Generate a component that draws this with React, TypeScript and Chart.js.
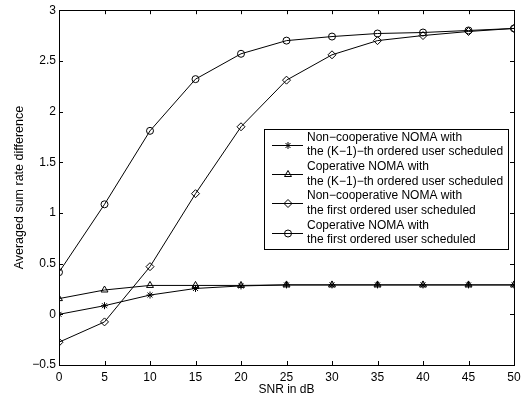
import React, { useEffect, useRef } from 'react';
import { Chart, registerables } from 'chart.js';

Chart.register(...registerables);

const snr = [0, 5, 10, 15, 20, 25, 30, 35, 40, 45, 50];
const nonCoopK1 = [0.0, 0.085, 0.19, 0.255, 0.28, 0.29, 0.29, 0.29, 0.29, 0.29, 0.29];
const coopK1 = [0.155, 0.24, 0.285, 0.285, 0.285, 0.29, 0.29, 0.29, 0.29, 0.29, 0.29];
const nonCoopFirst = [-0.275, -0.075, 0.47, 1.19, 1.85, 2.31, 2.56, 2.7, 2.75, 2.79, 2.82];
const coopFirst = [0.415, 1.085, 1.81, 2.32, 2.57, 2.7, 2.74, 2.77, 2.78, 2.8, 2.82];

const xTicks = [0, 5, 10, 15, 20, 25, 30, 35, 40, 45, 50];
const yTicks = [-0.5, 0, 0.5, 1, 1.5, 2, 2.5, 3];

const seriesLabels = [
  ['Non\u2212cooperative NOMA with', 'the (K\u22121)\u2212th ordered user scheduled'],
  ['Coperative NOMA with', 'the (K\u22121)\u2212th ordered user scheduled'],
  ['Non\u2212cooperative NOMA with', 'the first ordered user scheduled'],
  ['Coperative NOMA with', 'the first ordered user scheduled'],
];
const seriesStyles = ['star', 'triangle', 'rectRot', 'circle'];
const seriesData = [nonCoopK1, coopK1, nonCoopFirst, coopFirst];

const FONT = '"Liberation Sans", Arial, Helvetica, sans-serif';

function drawMarker(ctx: CanvasRenderingContext2D, style: string, x: number, y: number, r: number) {
  ctx.beginPath();
  if (style === 'circle') {
    ctx.arc(x, y, r, 0, Math.PI * 2);
  } else if (style === 'triangle') {
    for (let i = 0; i < 3; i++) {
      const a = -Math.PI / 2 + (i * 2 * Math.PI) / 3;
      const px = x + Math.cos(a) * r;
      const py = y + Math.sin(a) * r;
      if (i === 0) ctx.moveTo(px, py);
      else ctx.lineTo(px, py);
    }
    ctx.closePath();
  } else if (style === 'rectRot') {
    ctx.moveTo(x - r, y);
    ctx.lineTo(x, y - r);
    ctx.lineTo(x + r, y);
    ctx.lineTo(x, y + r);
    ctx.closePath();
  } else if (style === 'star') {
    for (let i = 0; i < 4; i++) {
      const a = (i * Math.PI) / 4;
      ctx.moveTo(x - Math.cos(a) * r, y - Math.sin(a) * r);
      ctx.lineTo(x + Math.cos(a) * r, y + Math.sin(a) * r);
    }
  }
  ctx.stroke();
}

const boxPlugin = {
  id: 'matlabBox',
  afterDraw(chart: any) {
    const ctx = chart.ctx as CanvasRenderingContext2D;
    const { left, right, top, bottom } = chart.chartArea;
    const xs = chart.scales.x;
    const ys = chart.scales.y;
    ctx.save();
    ctx.strokeStyle = '#000';
    ctx.lineWidth = 1;
    const tl = 4;
    ctx.beginPath();
    xTicks.forEach((v) => {
      const px = Math.round(xs.getPixelForValue(v)) + 0.5;
      ctx.moveTo(px, bottom);
      ctx.lineTo(px, bottom - tl);
      ctx.moveTo(px, top);
      ctx.lineTo(px, top + tl);
    });
    yTicks.forEach((v) => {
      const py = Math.round(ys.getPixelForValue(v)) + 0.5;
      ctx.moveTo(left, py);
      ctx.lineTo(left + tl, py);
      ctx.moveTo(right, py);
      ctx.lineTo(right - tl, py);
    });
    ctx.stroke();
    ctx.strokeRect(Math.round(left) + 0.5, Math.round(top) + 0.5, Math.round(right - left), Math.round(bottom - top));

    // legend
    const lx = 264.5;
    const ly = 129.5;
    const lw = 244;
    const lh = 120;
    ctx.fillStyle = '#fff';
    ctx.fillRect(lx, ly, lw, lh);
    ctx.strokeRect(lx, ly, lw, lh);
    ctx.font = '12px ' + FONT;
    ctx.textBaseline = 'middle';
    ctx.textAlign = 'left';
    ctx.fillStyle = '#000';
    const line0 = 137.5;
    const pitch = 14.65;
    seriesLabels.forEach((lines, i) => {
      const y1 = line0 + pitch * 2 * i;
      const y2 = y1 + pitch;
      ctx.fillText(lines[0], 307, y1);
      ctx.fillText(lines[1], 307, y2);
      const my = Math.round((y1 + y2) / 2) + 0.5;
      ctx.beginPath();
      ctx.moveTo(272, my);
      ctx.lineTo(303, my);
      ctx.stroke();
      const st = seriesStyles[i];
      const r = st === 'circle' ? 3.5 : st === 'star' ? 3.5 : 4;
      drawMarker(ctx, st, 288, my, r);
    });
    ctx.restore();
  },
};

export default function App() {
  const ref = useRef<HTMLCanvasElement | null>(null);
  useEffect(() => {
    if (!ref.current) return;
    const chart = new Chart(ref.current, {
      type: 'line',
      data: {
        labels: snr,
        datasets: seriesData.map((d, i) => ({
          label: seriesLabels[i].join(' '),
          data: snr.map((x, j) => ({ x, y: d[j] })),
          borderColor: '#000',
          borderWidth: 1,
          backgroundColor: 'rgba(0,0,0,0)',
          pointStyle: seriesStyles[i] as any,
          pointRadius: seriesStyles[i] === 'circle' ? 3.5 : seriesStyles[i] === 'star' ? 3.5 : 4,
          pointBorderColor: '#000',
          pointBackgroundColor: 'rgba(0,0,0,0)',
          pointBorderWidth: 1,
          fill: false,
          tension: 0,
        })),
      },
      options: {
        animation: false,
        responsive: false,
        devicePixelRatio: 1,
        layout: { padding: { top: 6, right: 18, left: 0, bottom: 0 } },
        plugins: {
          legend: { display: false },
          tooltip: { enabled: false },
        },
        scales: {
          x: {
            type: 'linear',
            min: 0,
            max: 50,
            afterFit: (s: any) => {
              s.height = 33;
            },
            afterBuildTicks: (s: any) => {
              s.ticks = xTicks.map((v) => ({ value: v }));
            },
            grid: { display: false, drawTicks: false },
            border: { display: false },
            ticks: {
              padding: 5,
              color: '#000',
              maxRotation: 0,
              autoSkip: false,
              font: { family: FONT, size: 12 },
              callback: (v: any) => String(v),
            },
            title: {
              display: true,
              text: 'SNR in dB',
              color: '#000',
              font: { family: FONT, size: 12 },
              padding: { top: 0, bottom: 1 },
            },
          },
          y: {
            type: 'linear',
            min: -0.5,
            max: 3,
            afterFit: (s: any) => {
              s.width = 59;
            },
            afterBuildTicks: (s: any) => {
              s.ticks = yTicks.map((v) => ({ value: v }));
            },
            grid: { display: false, drawTicks: false },
            border: { display: false },
            ticks: {
              padding: 3,
              color: '#000',
              autoSkip: false,
              font: { family: FONT, size: 12 },
              callback: (v: any) => String(v).replace('-', '\u2212'),
            },
            title: {
              display: true,
              text: 'Averaged sum rate difference',
              color: '#000',
              font: { family: FONT, size: 12.5 },
              padding: { top: 12.5, bottom: 0 },
            },
          },
        },
      },
      plugins: [boxPlugin],
    });
    return () => chart.destroy();
  }, []);
  return (
    <div style={{ position: 'fixed', left: 0, top: 0, width: 532, height: 398, background: '#fff' }}>
      <canvas ref={ref} width={532} height={398} style={{ display: 'block', width: 532, height: 398 }} />
    </div>
  );
}
